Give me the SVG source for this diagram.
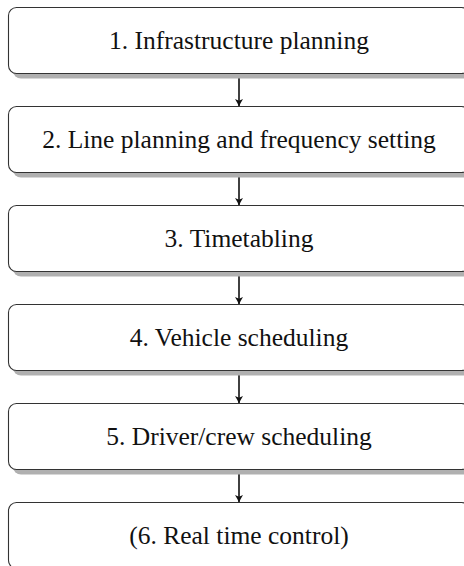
<svg xmlns="http://www.w3.org/2000/svg" width="464" height="566" viewBox="0 0 464 566">
  <style>
    .shadow { fill: #b0b0b0; stroke: none; }
    .box { fill: #ffffff; stroke: #333333; stroke-width: 1.1; }
    .label { font-family: "Liberation Serif", "DejaVu Serif", serif; font-size: 25.5px; fill: #111111; text-anchor: middle; }
    .conn { stroke: #111111; stroke-width: 1.6; fill: none; marker-end: url(#arr); }
  </style>
  <defs>
    <marker id="arr" markerWidth="10" markerHeight="10" refX="7.5" refY="5" orient="auto" markerUnits="userSpaceOnUse">
      <path d="M0,1 Q4,3.5 7.5,5 Q4,6.5 0,9 L1.8,5 Z" fill="#111111"/>
    </marker>
  </defs>
  <g id="connectors">
    <line class="conn" x1="239" y1="73.5" x2="239" y2="106.5"/>
    <line class="conn" x1="239" y1="172.5" x2="239" y2="205.5"/>
    <line class="conn" x1="239" y1="271.5" x2="239" y2="304.5"/>
    <line class="conn" x1="239" y1="370.5" x2="239" y2="403.5"/>
    <line class="conn" x1="239" y1="469.5" x2="239" y2="502.5"/>
  </g>
  <g id="node1">
    <rect class="shadow" x="13" y="12.5" width="461" height="66" rx="8"/>
    <rect class="box" x="8.5" y="7.5" width="461" height="66" rx="8"/>
    <text class="label" x="239" y="49">1. Infrastructure planning</text>
  </g>
  <g id="node2">
    <rect class="shadow" x="13" y="111.5" width="461" height="66" rx="8"/>
    <rect class="box" x="8.5" y="106.5" width="461" height="66" rx="8"/>
    <text class="label" x="239" y="148">2. Line planning and frequency setting</text>
  </g>
  <g id="node3">
    <rect class="shadow" x="13" y="210.5" width="461" height="66" rx="8"/>
    <rect class="box" x="8.5" y="205.5" width="461" height="66" rx="8"/>
    <text class="label" x="239" y="247">3. Timetabling</text>
  </g>
  <g id="node4">
    <rect class="shadow" x="13" y="309.5" width="461" height="66" rx="8"/>
    <rect class="box" x="8.5" y="304.5" width="461" height="66" rx="8"/>
    <text class="label" x="239" y="346">4. Vehicle scheduling</text>
  </g>
  <g id="node5">
    <rect class="shadow" x="13" y="408.5" width="461" height="66" rx="8"/>
    <rect class="box" x="8.5" y="403.5" width="461" height="66" rx="8"/>
    <text class="label" x="239" y="445">5. Driver/crew scheduling</text>
  </g>
  <g id="node6">
    <rect class="shadow" x="13" y="507.5" width="461" height="66" rx="8"/>
    <rect class="box" x="8.5" y="502.5" width="461" height="66" rx="8"/>
    <text class="label" x="239" y="544">(6. Real time control)</text>
  </g>
</svg>
